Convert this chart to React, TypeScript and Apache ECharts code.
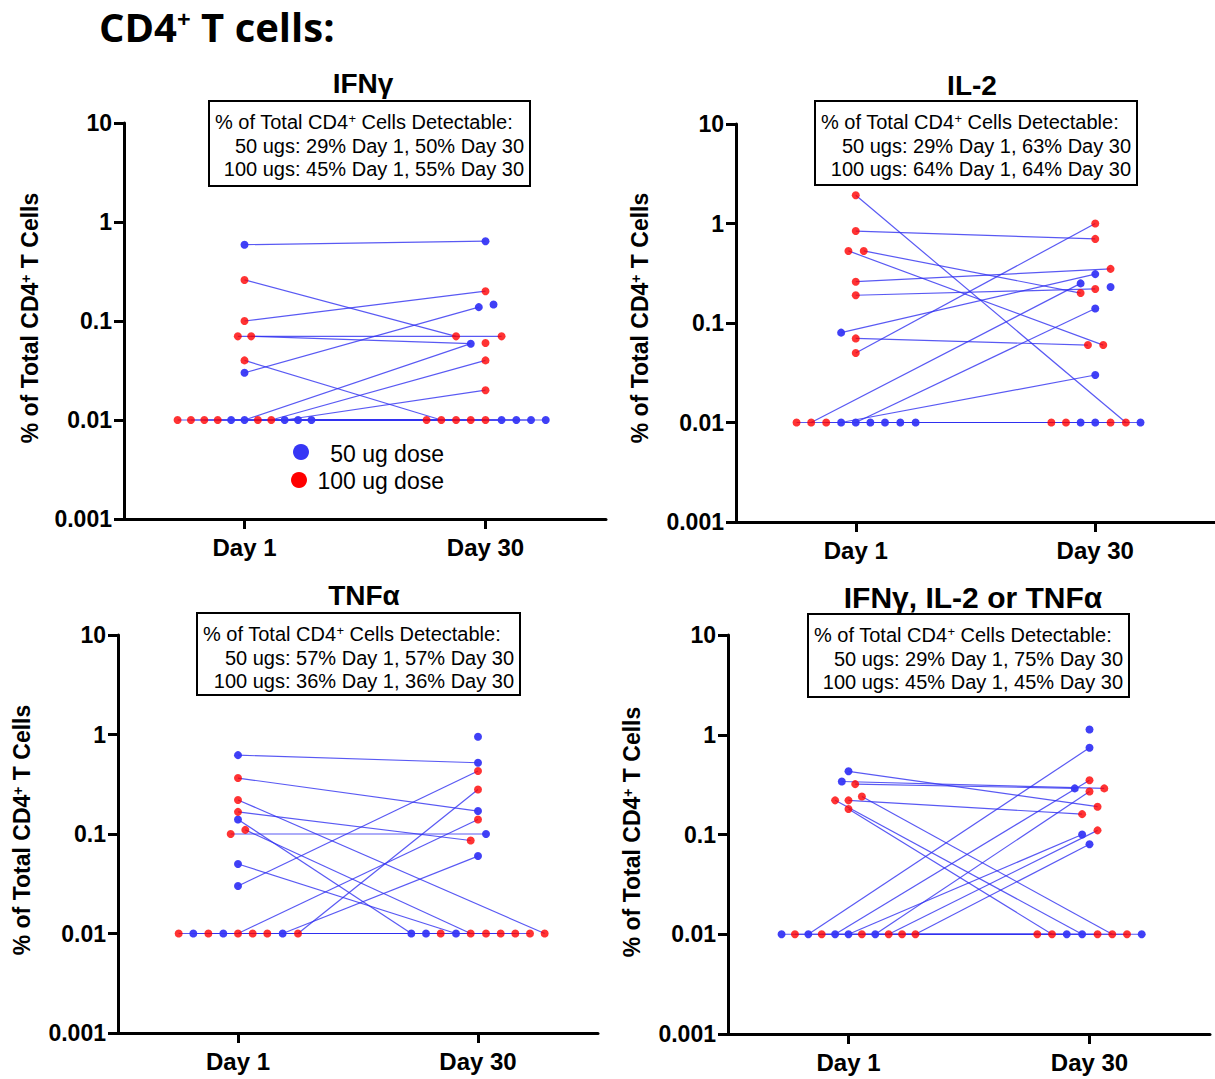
import React, { useEffect, useRef } from 'react';
import * as echarts from 'echarts';

type Pt = [number, number];
type Link = [number, number, number, number];

// ---------- data ----------
const xTickValues = [9, 27];
const xTickLabels = ['Day 1', 'Day 30'];
const yTickLabels = ['0.001', '0.01', '0.1', '1', '10'];

const panelTitles = ['IFNγ', 'IL-2', 'TNFα', 'IFNγ, IL-2 or TNFα'];
const detectHeader = '% of Total CD4{sup|+} Cells Detectable:';
const detect50 = [
  '50 ugs: 29% Day 1, 50% Day 30',
  '50 ugs: 29% Day 1, 63% Day 30',
  '50 ugs: 57% Day 1, 57% Day 30',
  '50 ugs: 29% Day 1, 75% Day 30',
];
const detect100 = [
  '100 ugs: 45% Day 1, 55% Day 30',
  '100 ugs: 64% Day 1, 64% Day 30',
  '100 ugs: 36% Day 1, 36% Day 30',
  '100 ugs: 45% Day 1, 45% Day 30',
];
const legendLabels = ['50 ug dose', '100 ug dose'];

// IFNγ
const ifngBlue: Pt[] = [
  [9, 0.59], [27, 0.64], [26.5, 0.138], [27.6, 0.147], [25.9, 0.059], [9, 0.03],
  [8, 0.01], [9, 0.01], [12, 0.01], [13, 0.01], [14, 0.01],
  [28.2, 0.01], [29.3, 0.01], [30.4, 0.01], [31.5, 0.01],
];
const ifngRed: Pt[] = [
  [9, 0.26], [9, 0.1], [8.5, 0.07], [9.5, 0.07], [9, 0.04],
  [27, 0.2], [24.8, 0.07], [28.2, 0.07], [27, 0.06], [27, 0.04], [27, 0.02],
  [4, 0.01], [5, 0.01], [6, 0.01], [7, 0.01], [10, 0.01], [11, 0.01],
  [22.6, 0.01], [23.7, 0.01], [24.8, 0.01], [25.9, 0.01], [27, 0.01],
];
const ifngLinks: Link[] = [
  [9, 0.59, 27, 0.64], [9, 0.26, 24.8, 0.07], [9, 0.1, 27, 0.2],
  [8.5, 0.07, 28.2, 0.07], [9.5, 0.07, 25.9, 0.059], [9, 0.04, 23.7, 0.01],
  [9, 0.03, 26.5, 0.138], [9, 0.01, 25.9, 0.059], [11, 0.01, 27, 0.04],
  [12, 0.01, 27, 0.02],
  [4, 0.01, 31.5, 0.01], [5, 0.01, 22.6, 0.01], [6, 0.01, 29.3, 0.01],
  [7, 0.01, 30.4, 0.01], [8, 0.01, 24.8, 0.01], [10, 0.01, 27, 0.01],
  [13, 0.01, 28.2, 0.01], [14, 0.01, 23.7, 0.01],
];

// IL-2
const il2Blue: Pt[] = [
  [7.9, 0.08], [27, 0.31], [25.9, 0.25], [28.15, 0.23], [27, 0.14], [27, 0.03],
  [7.9, 0.01], [9, 0.01], [10.1, 0.01], [11.2, 0.01], [12.35, 0.01], [13.5, 0.01],
  [25.9, 0.01], [27, 0.01], [30.4, 0.01],
];
const il2Red: Pt[] = [
  [9, 1.92], [9, 0.84], [8.45, 0.53], [9.6, 0.53], [9, 0.26], [9, 0.19], [9, 0.07], [9, 0.05],
  [27, 1.0], [27, 0.7], [28.15, 0.35], [25.9, 0.2], [27, 0.22], [26.45, 0.06], [27.6, 0.06],
  [4.55, 0.01], [5.65, 0.01], [6.78, 0.01], [23.7, 0.01], [24.8, 0.01], [28.15, 0.01], [29.3, 0.01],
];
const il2Links: Link[] = [
  [9, 1.92, 29.3, 0.01], [9, 0.84, 27, 0.7], [9.6, 0.53, 25.9, 0.2],
  [8.45, 0.53, 27.6, 0.06], [9, 0.26, 28.15, 0.35], [9, 0.19, 27, 0.22],
  [7.9, 0.08, 27, 0.31], [9, 0.07, 26.45, 0.06], [9, 0.05, 27, 1.0],
  [5.65, 0.01, 25.9, 0.25], [9, 0.01, 27, 0.14], [7.9, 0.01, 27, 0.03],
  [4.55, 0.01, 30.4, 0.01], [6.78, 0.01, 23.7, 0.01], [10.1, 0.01, 24.8, 0.01],
  [11.2, 0.01, 25.9, 0.01], [12.35, 0.01, 27, 0.01], [13.5, 0.01, 28.15, 0.01],
];

// TNFα
const tnfBlue: Pt[] = [
  [9, 0.62], [9, 0.14], [9, 0.05], [9, 0.03],
  [27, 0.95], [27, 0.52], [27, 0.17], [27.6, 0.1], [27, 0.06],
  [5.65, 0.01], [7.9, 0.01], [12.35, 0.01], [22, 0.01], [23.1, 0.01], [25.35, 0.01],
];
const tnfRed: Pt[] = [
  [9, 0.365], [9, 0.22], [9, 0.167], [9.55, 0.11], [8.45, 0.1],
  [27, 0.43], [27, 0.28], [27, 0.14], [26.45, 0.086],
  [4.55, 0.01], [6.78, 0.01], [9, 0.01], [10.1, 0.01], [11.2, 0.01], [13.5, 0.01],
  [24.2, 0.01], [26.45, 0.01], [27.6, 0.01], [28.7, 0.01], [29.8, 0.01], [30.9, 0.01], [32, 0.01],
];
const tnfLinks: Link[] = [
  [9, 0.62, 27, 0.52], [9, 0.365, 27, 0.17], [9, 0.22, 32, 0.01],
  [9, 0.167, 26.45, 0.086], [9, 0.14, 22, 0.01], [9.55, 0.11, 26.45, 0.01],
  [8.45, 0.1, 27.6, 0.1], [9, 0.05, 25.35, 0.01], [9, 0.03, 27, 0.43],
  [9, 0.01, 27, 0.14], [12.35, 0.01, 27, 0.06], [13.5, 0.01, 27, 0.28],
  [4.55, 0.01, 30.9, 0.01], [5.65, 0.01, 23.1, 0.01], [6.78, 0.01, 24.2, 0.01],
  [7.9, 0.01, 28.7, 0.01], [10.1, 0.01, 29.8, 0.01], [11.2, 0.01, 27.6, 0.01],
];

// IFNγ, IL-2 or TNFα
const anyBlue: Pt[] = [
  [9, 0.43], [8.5, 0.34], [27, 1.13], [27, 0.74], [25.9, 0.29], [26.45, 0.1], [27, 0.08],
  [4, 0.01], [6, 0.01], [8, 0.01], [9, 0.01], [11, 0.01],
  [25.3, 0.01], [26.45, 0.01], [30.9, 0.01],
];
const anyRed: Pt[] = [
  [9.5, 0.32], [10, 0.24], [8, 0.22], [9, 0.22], [9, 0.18],
  [27, 0.35], [28.1, 0.29], [27, 0.27], [27.6, 0.19], [26.45, 0.16], [27.6, 0.11],
  [5, 0.01], [7, 0.01], [10, 0.01], [12, 0.01], [13, 0.01], [14, 0.01],
  [23.1, 0.01], [24.2, 0.01], [27.6, 0.01], [28.7, 0.01], [29.8, 0.01],
];
const anyLinks: Link[] = [
  [9, 0.43, 27.6, 0.19], [8.5, 0.34, 28.1, 0.29], [9.5, 0.32, 25.9, 0.29],
  [9, 0.22, 26.45, 0.16], [10, 0.24, 28.7, 0.01], [8, 0.22, 26.45, 0.01],
  [9, 0.18, 24.2, 0.01], [6, 0.01, 27, 0.74], [8, 0.01, 27, 0.35],
  [9, 0.01, 26.45, 0.1], [11, 0.01, 27, 0.27], [12, 0.01, 27.6, 0.11],
  [14, 0.01, 27, 0.08],
  [4, 0.01, 30.9, 0.01], [5, 0.01, 23.1, 0.01], [7, 0.01, 25.3, 0.01],
  [10, 0.01, 29.8, 0.01], [13, 0.01, 27.6, 0.01],
];

const panelBlue = [ifngBlue, il2Blue, tnfBlue, anyBlue];
const panelRed = [ifngRed, il2Red, tnfRed, anyRed];
const panelLinks = [ifngLinks, il2Links, tnfLinks, anyLinks];

// ---------- layout / style ----------
const ARIAL = '"Liberation Sans", Arial, sans-serif';
const TITLE_FONT = '"Open Sans", Carlito, sans-serif';
const BLUE = '#3636f5';
const RED = '#ff0000';
const LINE = '#2f2ff0';

const grids = [
  { left: 124, top: 123, width: 482, height: 396 },
  { left: 736, top: 124, width: 480, height: 398 },
  { left: 118, top: 635, width: 480, height: 398 },
  { left: 728, top: 635, width: 482, height: 399 },
];
const titlePos = [[363, 83], [972, 85], [364, 595], [973, 597]];
const titleSizes = [28, 28, 28, 30];
const boxes = [
  { x: 209, y: 101, w: 321, h: 85 },
  { x: 815, y: 101, w: 322, h: 84 },
  { x: 197, y: 613, w: 323, h: 82 },
  { x: 808, y: 614, w: 321, h: 83 },
];
const yNamePos = [[30, 318], [640, 318], [22, 830], [632, 832]];

export default function App() {
  const ref = useRef<HTMLDivElement>(null);
  useEffect(() => {
    if (!ref.current) return;
    const chart = echarts.init(ref.current, undefined, { renderer: 'svg' });

    const xAxes = grids.map((_, i) => ({
      type: 'value',
      gridIndex: i,
      min: 0,
      max: 36,
      splitLine: { show: false },
      axisLine: { onZero: false, lineStyle: { color: '#000', width: 3 } },
      axisTick: { customValues: xTickValues, length: 10, lineStyle: { color: '#000', width: 3 } },
      axisLabel: {
        customValues: xTickValues,
        margin: 16,
        color: '#000',
        fontFamily: ARIAL,
        fontWeight: 'bold',
        fontSize: 24,
        formatter: (v: number) => {
          const k = xTickValues.indexOf(v);
          return k >= 0 ? xTickLabels[k] : '';
        },
      },
    }));
    const yAxes = grids.map((_, i) => ({
      type: 'log',
      logBase: 10,
      gridIndex: i,
      min: 0.001,
      max: 10,
      splitLine: { show: false },
      axisLine: { lineStyle: { color: '#000', width: 3 } },
      axisTick: { length: 10, lineStyle: { color: '#000', width: 3 } },
      axisLabel: {
        margin: 12,
        color: '#000',
        fontFamily: ARIAL,
        fontWeight: 'bold',
        fontSize: 23,
        formatter: (v: number) => {
          const e = Math.round(Math.log10(v)) + 3;
          return yTickLabels[e] ?? '';
        },
      },
    }));

    const series: any[] = [];
    panelLinks.forEach((links, i) => {
      links.forEach((l) => {
        series.push({
          type: 'line',
          xAxisIndex: i,
          yAxisIndex: i,
          data: [[l[0], l[1]], [l[2], l[3]]],
          symbol: 'none',
          silent: true,
          z: 1,
          lineStyle: { color: LINE, width: 1.2, opacity: 0.8 },
        });
      });
      series.push({
        type: 'scatter',
        xAxisIndex: i,
        yAxisIndex: i,
        data: panelBlue[i],
        symbolSize: 8,
        z: 3,
        itemStyle: { color: BLUE, opacity: 0.95 },
      });
      series.push({
        type: 'scatter',
        xAxisIndex: i,
        yAxisIndex: i,
        data: panelRed[i],
        symbolSize: 8,
        z: 3,
        itemStyle: { color: RED },
      });
    });

    const graphics: any[] = [];
    graphics.push({
      type: 'text',
      x: 99,
      y: 26,
      style: {
        text: 'CD4{sup|+} T cells:',
        fontFamily: TITLE_FONT,
        fontWeight: 'bold',
        fontSize: 40,
        fill: '#000',
        verticalAlign: 'middle',
        rich: {
          sup: { fontFamily: TITLE_FONT, fontWeight: 'bold', fontSize: 24, verticalAlign: 'top', lineHeight: 24 },
        },
      },
    });
    panelTitles.forEach((t, i) => {
      graphics.push({
        type: 'text',
        x: titlePos[i][0],
        y: titlePos[i][1],
        style: {
          text: t,
          fontFamily: ARIAL,
          fontWeight: 'bold',
          fontSize: titleSizes[i],
          fill: '#000',
          align: 'center',
          verticalAlign: 'middle',
        },
      });
      const b = boxes[i];
      graphics.push({
        type: 'rect',
        shape: { x: b.x, y: b.y, width: b.w, height: b.h },
        style: { fill: '#fff', stroke: '#000', lineWidth: 2 },
        z: 10,
      });
      graphics.push({
        type: 'text',
        x: b.x + 6,
        y: b.y + 21,
        z: 11,
        style: {
          text: detectHeader,
          fontFamily: ARIAL,
          fontSize: 20,
          fill: '#000',
          verticalAlign: 'middle',
          rich: { sup: { fontFamily: ARIAL, fontSize: 13, verticalAlign: 'top', lineHeight: 13 } },
        },
      });
      graphics.push({
        type: 'text',
        x: b.x + b.w - 6,
        y: b.y + 45,
        z: 11,
        style: { text: detect50[i], fontFamily: ARIAL, fontSize: 20, fill: '#000', align: 'right', verticalAlign: 'middle' },
      });
      graphics.push({
        type: 'text',
        x: b.x + b.w - 6,
        y: b.y + 68,
        z: 11,
        style: { text: detect100[i], fontFamily: ARIAL, fontSize: 20, fill: '#000', align: 'right', verticalAlign: 'middle' },
      });
      graphics.push({
        type: 'text',
        x: yNamePos[i][0],
        y: yNamePos[i][1],
        rotation: Math.PI / 2,
        style: {
          text: '% of Total CD4{sup|+} T Cells',
          fontFamily: ARIAL,
          fontWeight: 'bold',
          fontSize: 23,
          fill: '#000',
          align: 'center',
          verticalAlign: 'middle',
          rich: { sup: { fontFamily: ARIAL, fontWeight: 'bold', fontSize: 14, verticalAlign: 'top', lineHeight: 14 } },
        },
      });
    });
    // legend (panel 1)
    graphics.push({ type: 'circle', shape: { cx: 301, cy: 452, r: 8 }, style: { fill: BLUE } });
    graphics.push({ type: 'circle', shape: { cx: 299, cy: 480, r: 8 }, style: { fill: RED } });
    graphics.push({
      type: 'text', x: 444, y: 454,
      style: { text: legendLabels[0], fontFamily: ARIAL, fontSize: 23, fill: '#000', align: 'right', verticalAlign: 'middle' },
    });
    graphics.push({
      type: 'text', x: 444, y: 481,
      style: { text: legendLabels[1], fontFamily: ARIAL, fontSize: 23, fill: '#000', align: 'right', verticalAlign: 'middle' },
    });

    chart.setOption({
      animation: false,
      backgroundColor: '#fff',
      grid: grids,
      xAxis: xAxes,
      yAxis: yAxes,
      series,
      graphic: graphics,
    });
    return () => chart.dispose();
  }, []);
  return (
    <div
      ref={ref}
      style={{ position: 'fixed', left: 0, top: 0, width: 1215, height: 1079, background: '#fff' }}
    />
  );
}
